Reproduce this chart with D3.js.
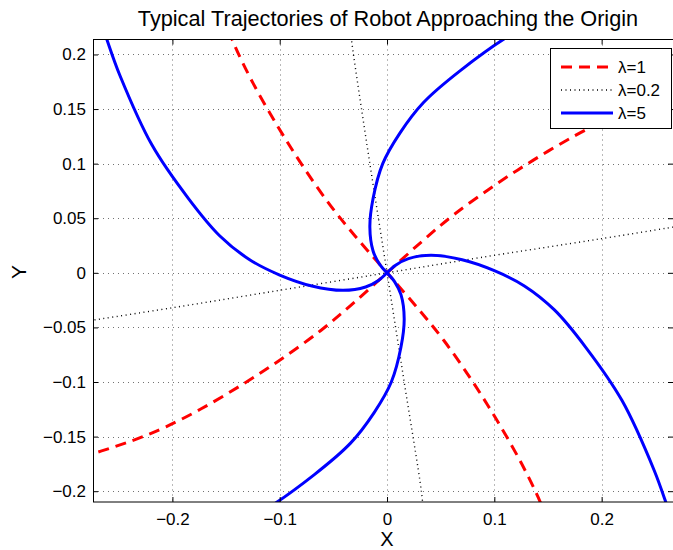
<!DOCTYPE html>
<html>
<head>
<meta charset="utf-8">
<script src="https://cdn.jsdelivr.net/npm/d3@7"></script>
<style>
  html, body { margin: 0; padding: 0; background: #fff; }
  svg { display: block; font-family: "Liberation Sans", Arial, Helvetica, sans-serif; }
</style>
</head>
<body>
<svg id="chart" width="673" height="550"></svg>
<script>
// Trajectories toward the origin for three gain values (x, y pairs).
const lambda1A = [[-0.159,0.253],[-0.151,0.230],[-0.141,0.206],[-0.125,0.174],[-0.103,0.136],[-0.080,0.100],
                  [-0.053,0.062],[-0.030,0.034],[0,0],[0.030,-0.034],[0.053,-0.062],[0.080,-0.100],[0.103,-0.136],
                  [0.125,-0.174],[0.141,-0.206],[0.151,-0.230],[0.159,-0.253]];
const lambda1B = [[-0.285,-0.169],[-0.253,-0.159],[-0.230,-0.151],[-0.206,-0.141],[-0.174,-0.125],[-0.136,-0.103],
                  [-0.100,-0.080],[-0.062,-0.053],[-0.034,-0.030],[0,0],[0.034,0.030],[0.062,0.053],[0.100,0.080],
                  [0.136,0.103],[0.174,0.125],[0.206,0.141],[0.230,0.151],[0.253,0.159],[0.285,0.169]];
const lambda02A = [[-0.285,-0.045],[-0.200,-0.032],[-0.100,-0.016],[0,0],[0.087,0.014],[0.198,0.031],[0.280,0.044]];
const lambda02B = [[-0.034,0.220],[-0.031,0.198],[-0.016,0.100],[0,0],[0.016,-0.100],[0.032,-0.200],[0.034,-0.220]];
const lambda5A = [[-0.265,0.225],[-0.261,0.2135],[-0.249,0.181],[-0.219,0.117],[-0.185,0.068],[-0.156,0.034],
                  [-0.128,0.012],[-0.100,-0.002],[-0.070,-0.012],[-0.041,-0.016],[-0.020,-0.013],[-0.008,-0.007],[0,0]];
const lambda5B = [[0.265,-0.225],[0.261,-0.2135],[0.249,-0.181],[0.219,-0.117],[0.185,-0.068],[0.156,-0.034],
                  [0.128,-0.012],[0.100,0.002],[0.070,0.012],[0.041,0.016],[0.020,0.013],[0.008,0.007],[0,0]];
const lambda5C = [[0.181,0.249],[0.117,0.219],[0.068,0.185],[0.034,0.156],[0.012,0.128],[-0.004,0.100],
                  [-0.013,0.068],[-0.016,0.042],[-0.013,0.020],[-0.007,0.008],[0,0]];
const lambda5D = [[-0.181,-0.249],[-0.117,-0.219],[-0.068,-0.185],[-0.034,-0.156],[-0.012,-0.128],[0.004,-0.100],
                  [0.013,-0.068],[0.016,-0.042],[0.013,-0.020],[0.007,-0.008],[0,0]];

const xTicks = [-0.2, -0.1, 0, 0.1, 0.2];
const yTicks = [-0.2, -0.15, -0.1, -0.05, 0, 0.05, 0.1, 0.15, 0.2];
const legendLabels = ["λ=1", "λ=0.2", "λ=5"];

const svg = d3.select("#chart");
const L = 93, R = 673, T = 39.5, B = 502;

const x = d3.scaleLinear().domain([-0.274, 0.2665]).range([L, R]);
const y = d3.scaleLinear().domain([-0.2099, 0.2137]).range([B, T]);

const fmt = v => (v < 0 ? "\u2212" : "") + String(Math.abs(+v.toFixed(2)));

// Dotted grid
const grid = svg.append("g").attr("stroke", "#000").attr("stroke-width", 1)
  .attr("stroke-dasharray", "1,4").attr("opacity", 0.55);
xTicks.forEach(t => grid.append("line").attr("x1", Math.round(x(t)) + 0.5).attr("x2", Math.round(x(t)) + 0.5)
  .attr("y1", T).attr("y2", B));
yTicks.forEach(t => grid.append("line").attr("y1", Math.round(y(t)) + 0.5).attr("y2", Math.round(y(t)) + 0.5)
  .attr("x1", L).attr("x2", R));

// Clip region for the plotted trajectories
svg.append("defs").append("clipPath").attr("id", "plot-area")
  .append("rect").attr("x", L).attr("y", T).attr("width", R - L).attr("height", B - T);

const plot = svg.append("g").attr("clip-path", "url(#plot-area)").attr("fill", "none");

const smooth = d3.curveCatmullRom.alpha(0.5);
const styles = {
  l1: { stroke: "#ff0000", width: 3, dash: "11,7", curve: smooth },
  l02: { stroke: "#000", width: 1.4, dash: "1,3.5", curve: smooth },
  l5: { stroke: "#0000ff", width: 3, dash: null, curve: smooth }
};
const series = [
  [lambda02A, styles.l02], [lambda02B, styles.l02],
  [lambda1A, styles.l1], [lambda1B, styles.l1],
  [lambda5A, styles.l5], [lambda5B, styles.l5], [lambda5C, styles.l5], [lambda5D, styles.l5]
];
series.forEach(([pts, s]) => {
  const line = d3.line().x(d => x(d[0])).y(d => y(d[1])).curve(s.curve);
  plot.append("path").datum(pts).attr("d", line)
    .attr("stroke", s.stroke).attr("stroke-width", s.width)
    .attr("stroke-dasharray", s.dash).attr("stroke-linejoin", "round");
});

// Axes: ticks point inward, labels outside
const xAxisB = d3.axisBottom(x).tickValues(xTicks).tickSize(-5).tickPadding(11).tickFormat(fmt);
const xAxisT = d3.axisTop(x).tickValues(xTicks).tickSize(-5).tickFormat("");
const yAxisL = d3.axisLeft(y).tickValues(yTicks).tickSize(-5).tickPadding(7).tickFormat(fmt);
const yAxisR = d3.axisRight(y).tickValues(yTicks).tickSize(-5).tickFormat("");

function styleAxis(g) {
  g.select(".domain").remove();
  g.selectAll(".tick line").attr("stroke", "#000");
  g.selectAll("text").attr("font-size", 17).attr("fill", "#000")
    .attr("font-family", "'Liberation Sans', Arial, sans-serif");
}
svg.append("g").attr("transform", `translate(0,${B})`).call(xAxisB).call(styleAxis);
svg.append("g").attr("transform", `translate(0,${T})`).call(xAxisT).call(styleAxis);
svg.append("g").attr("transform", `translate(${L},0)`).call(yAxisL).call(styleAxis);
svg.append("g").attr("transform", `translate(${R},0)`).call(yAxisR).call(styleAxis);

// Frame
svg.append("rect").attr("x", L + 0.5).attr("y", T).attr("width", R - L).attr("height", B - T)
  .attr("fill", "none").attr("stroke", "#000").attr("stroke-width", 1);

// Title and axis labels
svg.append("text").attr("x", 388).attr("y", 26).attr("text-anchor", "middle")
  .attr("font-size", 21.7).text("Typical Trajectories of Robot Approaching the Origin");
svg.append("text").attr("x", 387).attr("y", 546).attr("text-anchor", "middle")
  .attr("font-size", 20).text("X");
svg.append("text").attr("transform", "translate(26,272) rotate(-90)").attr("text-anchor", "middle")
  .attr("font-size", 21).text("Y");

// Legend
const lg = svg.append("g");
lg.append("rect").attr("x", 550.5).attr("y", 48.5).attr("width", 121).attr("height", 80)
  .attr("fill", "#fff").attr("stroke", "#000").attr("stroke-width", 1);
[styles.l1, styles.l02, styles.l5].forEach((s, i) => {
  const yy = 67 + i * 23;
  lg.append("line").attr("x1", 561).attr("x2", 613).attr("y1", yy).attr("y2", yy)
    .attr("stroke", s.stroke).attr("stroke-width", s.width).attr("stroke-dasharray", s.dash);
  lg.append("text").attr("x", 618).attr("y", yy + 6).attr("font-size", 17).text(legendLabels[i]);
});
</script>
</body>
</html>
